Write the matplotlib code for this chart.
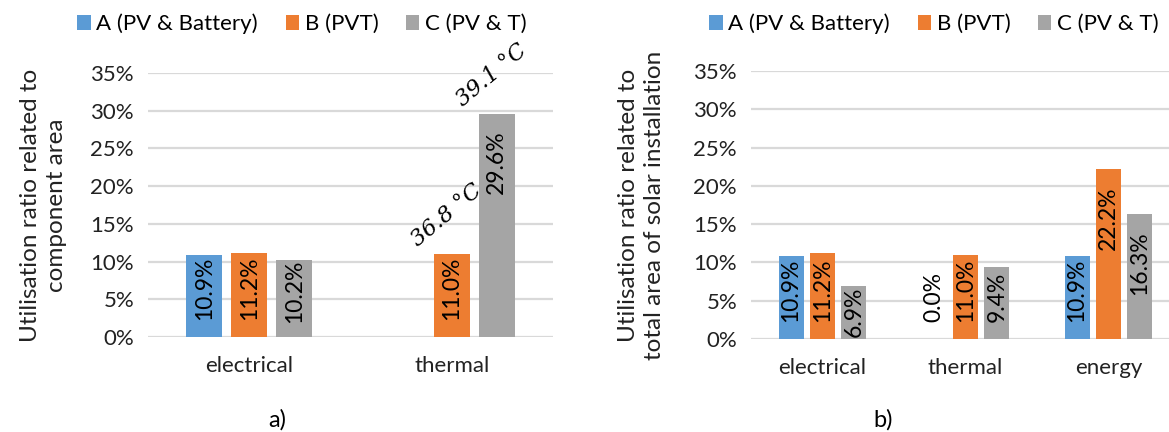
import numpy as np
import matplotlib
matplotlib.use("Agg")
import matplotlib.pyplot as plt
from matplotlib.ticker import PercentFormatter

plt.rcParams["font.family"] = ["Lato", "DejaVu Sans"]

# Utilisation ratios (fractions)
series_names = ["A (PV & Battery)", "B (PVT)", "C (PV & T)"]
colors = ["#5B9BD5", "#ED7D31", "#A5A5A5"]

cats_a = ["electrical", "thermal"]
vals_a = [
    [0.109, 0.0],     # A
    [0.112, 0.110],   # B
    [0.102, 0.296],   # C
]
show_a = [[True, False], [True, True], [True, True]]
temps_a = [(1, 1, "36.8 °C"), (2, 1, "39.1 °C")]  # (series, category, text)

cats_b = ["electrical", "thermal", "energy"]
vals_b = [
    [0.109, 0.0, 0.109],
    [0.112, 0.110, 0.222],
    [0.069, 0.094, 0.163],
]
show_b = [[True, True, True], [True, True, True], [True, True, True]]

yticks = [0, 0.05, 0.10, 0.15, 0.20, 0.25, 0.30, 0.35]
ymax = 0.35


def draw_panel(ax, cats, vals, show, width, step, label):
    x = np.arange(len(cats))
    texts = []
    for i, (name, col) in enumerate(zip(series_names, colors)):
        xs = x + (i - 1) * step
        ax.bar(xs, vals[i], width, color=col, label=name, zorder=2)
        for xi, v, s in zip(xs, vals[i], show[i]):
            if s:
                t = ax.text(xi, v, f"{v * 100:.1f}%", rotation=90,
                            ha="center", va="top", fontsize=16.5, zorder=3)
                texts.append((t, xi, v))
    ax.set_xlim(-0.5, len(cats) - 0.5)
    ax.set_ylim(0, ymax)
    ax.set_yticks(yticks)
    ax.yaxis.set_major_formatter(PercentFormatter(1.0, decimals=0))
    ax.set_xticks(x)
    ax.set_xticklabels(cats)
    ax.tick_params(length=0, labelsize=16, colors="#222222")
    ax.tick_params(axis="x", pad=14)
    ax.tick_params(axis="y", pad=10)
    ax.grid(axis="y", color="#D9D9D9", linewidth=1.6, zorder=0)
    ax.set_axisbelow(True)
    for sp in ax.spines.values():
        sp.set_visible(False)
    ax.set_ylabel(label, fontsize=17.5, color="#222222", linespacing=1.3)
    return texts


fig = plt.figure(figsize=(11.69, 4.32), dpi=100)
ax1 = fig.add_axes([148 / 1169, 95 / 432, 405 / 1169, 264 / 432])
ax2 = fig.add_axes([751 / 1169, 93 / 432, 429 / 1169, 268 / 432])

lab1 = draw_panel(ax1, cats_a, vals_a, show_a, 0.178, 0.222,
                  "Utilisation ratio related to\ncomponent area")
lab2 = draw_panel(ax2, cats_b, vals_b, show_b, 0.175, 0.22,
                  "Utilisation ratio related to\ntotal area of solar installation")
ax1.yaxis.set_label_coords(-0.2, 0.5)
ax2.yaxis.set_label_coords(-0.2, 0.5)

# temperature notes above the thermal bars
x1 = np.arange(len(cats_a))
for si, ci, txt in temps_a:
    ax1.annotate(txt, xy=(x1[ci] + (si - 1) * 0.222, vals_a[si][ci]),
                 xytext=(-22, 2), textcoords="offset points",
                 rotation=40, rotation_mode="anchor", ha="left", va="bottom",
                 fontsize=16, family="DejaVu Serif", style="italic")

# place value labels near the bar top, pushed up when the bar is short
fig.canvas.draw()
renderer = fig.canvas.get_renderer()
for ax, labs in ((ax1, lab1), (ax2, lab2)):
    ppu = ax.bbox.height / ymax
    off = 17 / ppu
    for t, xi, v in labs:
        L = t.get_window_extent(renderer).height / ppu
        if v > 0:
            top = max(v - off, min(v, L + off))
        else:
            top = L + off
        t.set_position((xi, top))

for ax, cx in ((ax1, 302), (ax2, 934)):
    h, l = ax.get_legend_handles_labels()
    fig.legend(h, l, loc="center", bbox_to_anchor=(cx / 1169, 1 - 24 / 432),
               ncol=3, frameon=False, fontsize=16, handlelength=0.6,
               handleheight=0.6, handletextpad=0.25, columnspacing=1.25)

fig.text(277 / 1169, 1 - 420 / 432, "a)", ha="center", va="center", fontsize=17)
fig.text(883 / 1169, 1 - 420 / 432, "b)", ha="center", va="center", fontsize=17)

fig.savefig("out.png", dpi=100)
